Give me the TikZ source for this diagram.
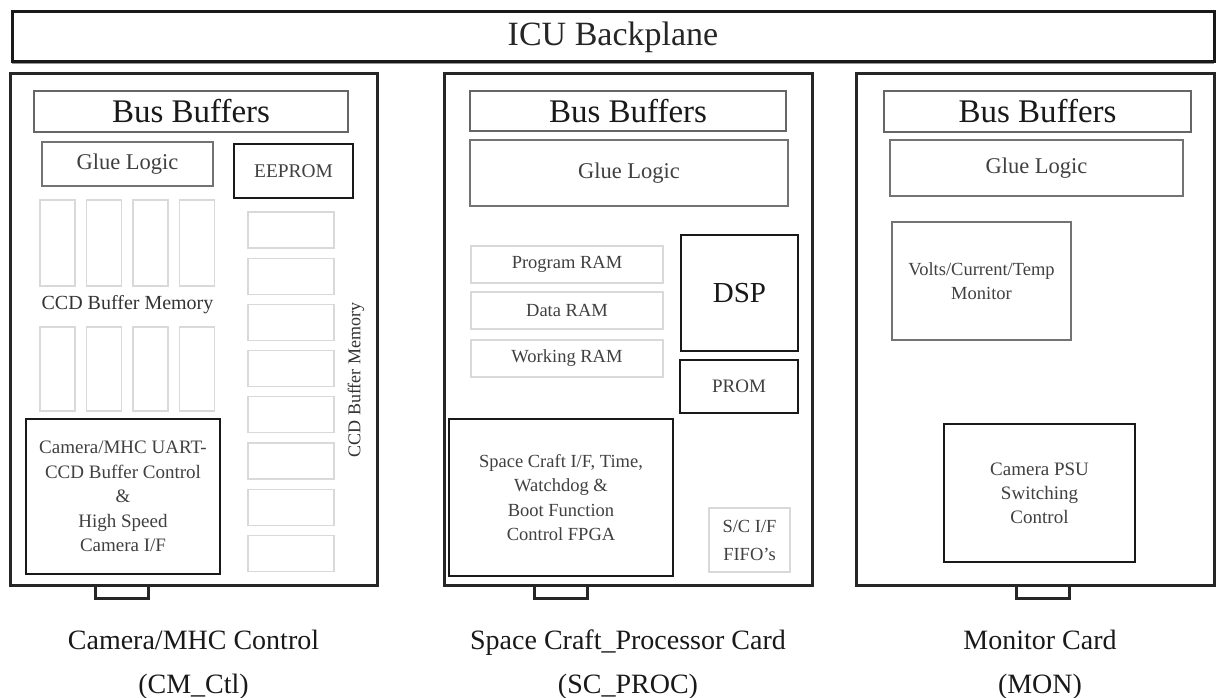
\documentclass[tikz,border=0pt]{standalone}
\usepackage{fontspec}
\setmainfont{Liberation Serif}
\usetikzlibrary{shadows}
\begin{document}
\begin{tikzpicture}[x=1pt,y=-1pt,
  card/.style={draw=black!85, line width=3pt, inner sep=0pt},
  bbox/.style={draw=black!60, line width=1.8pt, inner sep=0pt, font=\fontsize{33}{36}\selectfont, text=black!90},
  glue/.style={draw=black!55, line width=1.8pt, inner sep=0pt, font=\fontsize{22.5}{26}\selectfont, text=black!75},
  faint/.style={draw=black!15, line width=1.2pt, inner sep=0pt},
  ram/.style={faint, font=\fontsize{18.5}{22}\selectfont, text=black!75},
  strong/.style={draw=black!90, line width=2.8pt, inner sep=0pt, align=center, text=black!75},
  mid/.style={draw=black!55, line width=1.8pt, inner sep=0pt, align=center, text=black!75},
  tabbox/.style={draw=black!85, line width=2.2pt, inner sep=0pt, minimum width=53pt, minimum height=13pt},
  lbl/.style={align=center, inner sep=0pt, font=\fontsize{28}{44}\selectfont, anchor=north, text=black!90},
]
\useasboundingbox (0,0) rectangle (1225,698);

% backplane
\node[draw=black!90, line width=3pt, inner sep=0pt, fill=white,
      drop shadow={shadow xshift=0pt, shadow yshift=-2.5pt, fill=black!60, opacity=0.7},
      minimum width=1202pt, minimum height=50pt,
      font=\fontsize{34}{40}\selectfont, text=black!85] (bp) at (613,37) {ICU Backplane};

% tabs
\node[tabbox] (tab1) at (122,592) {};
\node[tabbox] (tab2) at (561,592) {};
\node[tabbox] (tab3) at (1043,592) {};

% cards
\node[card, fill=white, minimum width=367pt, minimum height=511pt] (card1) at (193.5,329.5) {};
\node[card, fill=white, minimum width=368pt, minimum height=511pt] (card2) at (628,329.5) {};
\node[card, fill=white, minimum width=358pt, minimum height=511pt] (card3) at (1035,329.5) {};

% ---------- card 1 ----------
\node[bbox, minimum width=314pt, minimum height=41pt] (bb1) at (191,111.5) {Bus Buffers};
\node[glue, minimum width=171pt, minimum height=44pt] (gl1) at (127.5,164) {Glue Logic};
\node[strong, minimum width=119pt, minimum height=54pt, font=\fontsize{19.4}{22}\selectfont] (ee) at (293.5,171) {EEPROM};
\foreach \i/\cx in {1/57.5,2/104,3/150.5,4/197}{
  \node[faint, minimum width=35pt, minimum height=86pt] (chipA\i) at (\cx,243) {};
  \node[faint, minimum width=35pt, minimum height=84pt] (chipB\i) at (\cx,369) {};
}
\node[inner sep=0pt, font=\fontsize{20}{24}\selectfont, text=black!80] (ccdh) at (127.5,305) {CCD Buffer Memory};
\foreach \i in {0,...,7}{
  \node[faint, minimum width=86pt, minimum height=36pt] (rb\i) at (291,{230+46.2*\i}) {};
}
\node[inner sep=0pt, rotate=90, font=\fontsize{18}{22}\selectfont, text=black!80] (ccdv) at (356,380) {CCD Buffer Memory};
\node[strong, minimum width=194pt, minimum height=155pt, font=\fontsize{19}{24.5}\selectfont] (cam) at (123,496.5)
  {Camera/MHC UART-\\CCD Buffer Control\\\&\\High Speed\\Camera I/F};

% ---------- card 2 ----------
\node[bbox, minimum width=316pt, minimum height=40pt] (bb2) at (628,111) {Bus Buffers};
\node[glue, minimum width=318pt, minimum height=66pt] (gl2) at (629,173) {Glue Logic};
\node[ram, minimum width=192pt, minimum height=37pt] (pram) at (567,264.5) {Program RAM};
\node[ram, minimum width=192pt, minimum height=37pt] (dram) at (567,310.5) {Data RAM};
\node[ram, minimum width=192pt, minimum height=37pt] (wram) at (567,358.5) {Working RAM};
\node[strong, minimum width=117pt, minimum height=116pt, font=\fontsize{29}{32}\selectfont, text=black!90] (dsp) at (739.5,293) {DSP};
\node[strong, minimum width=118pt, minimum height=53pt, font=\fontsize{19}{22}\selectfont] (prom) at (739,386.5) {PROM};
\node[strong, line width=2.4pt, minimum width=224pt, minimum height=157pt, font=\fontsize{18.5}{24.4}\selectfont] (fpga) at (561,497.5)
  {Space Craft I/F, Time,\\Watchdog \&\\Boot Function\\Control FPGA};
\node[faint, align=center, minimum width=81pt, minimum height=64pt, font=\fontsize{18.5}{28}\selectfont, text=black!75] (fifo) at (749.5,540)
  {S/C I/F\\FIFO's};

% ---------- card 3 ----------
\node[bbox, minimum width=307pt, minimum height=41pt] (bb3) at (1037.5,111.5) {Bus Buffers};
\node[glue, minimum width=293pt, minimum height=56pt] (gl3) at (1036.5,168) {Glue Logic};
\node[mid, minimum width=179pt, minimum height=118pt, font=\fontsize{18.5}{24}\selectfont] (volts) at (981.5,281)
  {Volts/Current/Temp\\Monitor};
\node[strong, line width=2.4pt, minimum width=191pt, minimum height=138pt, font=\fontsize{19}{24}\selectfont] (psu) at (1039.5,493)
  {Camera PSU\\Switching\\Control};

% ---------- labels ----------
\node[lbl] (lab1) at (193.5,629.5) {Camera/MHC Control\\(CM\_Ctl)};
\node[lbl] (lab2) at (628,629.5) {Space Craft\_Processor Card\\(SC\_PROC)};
\node[lbl] (lab3) at (1040,629.5) {Monitor Card\\(MON)};
\end{tikzpicture}
\end{document}
